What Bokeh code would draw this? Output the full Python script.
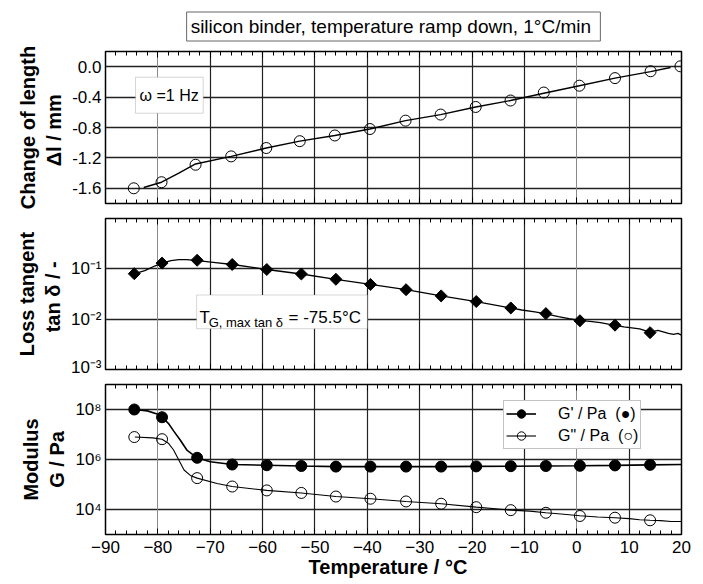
from bokeh.plotting import figure
from bokeh.layouts import column
from bokeh.models import (LinearAxis, SingleIntervalTicker, FixedTicker, Grid, Label,
                          BoxAnnotation, Legend, LegendItem, Title, CustomJSTickFormatter,
                          PrintfTickFormatter, Range1d)
from bokeh.embed import file_html
from bokeh.resources import INLINE

FONT = "Liberation Sans"

# ---------------- data ----------------
title_text = "silicon binder,  temperature ramp down, 1\u00b0C/min"

# marker temperatures (°C)
dl_T = [-84.6, -79.3, -72.8, -66.0, -59.3, -52.9, -46.2, -39.5, -32.7, -26.0, -19.3,
        -12.65, -6.3, 0.5, 7.3, 14.1, 19.8]
dl_v = [-1.60, -1.52, -1.29, -1.18, -1.07, -0.98, -0.905, -0.82, -0.71, -0.63, -0.53,
        -0.445, -0.34, -0.25, -0.15, -0.06, 0.005]
dl_line_T = [-82.7, -79.3, -76.0, -72.8, -66.0, -59.3, -52.9, -46.2, -39.5, -32.7, -26.0,
             -19.3, -12.65, -6.3, 0.5, 7.3, 14.1, 17.9]
dl_line_v = [-1.59, -1.52, -1.40, -1.28, -1.18, -1.07, -0.98, -0.905, -0.82, -0.71, -0.63,
             -0.53, -0.445, -0.35, -0.25, -0.15, -0.065, -0.01]

m_T = [-84.5, -79.2, -72.5, -65.8, -59.2, -52.6, -46.0, -39.4, -32.6, -25.9, -19.2,
       -12.6, -5.9, 0.6, 7.3, 14.0]
tan_v = [0.080, 0.130, 0.148, 0.122, 0.097, 0.079, 0.062, 0.049, 0.0385, 0.029, 0.0224,
         0.0167, 0.0129, 0.0093, 0.0076, 0.0054]
tan_line_T = [-84.4, -82.5, -80.5, -79.2, -77.5, -76.0, -74.5, -72.4, -69.0, -65.7, -59.2,
              -52.6, -46.0, -39.4, -32.6, -25.9, -19.2, -12.6, -10.5, -8.0, -5.9, -3.5,
              -1.5, 0.6, 2.5, 4.5, 7.3, 9.0, 10.5, 12.0, 14.0, 15.5, 16.5, 17.5, 18.5,
              19.3, 20.0]
tan_line_v = [0.080, 0.092, 0.115, 0.130, 0.146, 0.152, 0.152, 0.145, 0.133, 0.122, 0.097,
              0.079, 0.062, 0.049, 0.0385, 0.029, 0.0224, 0.0167, 0.0152, 0.0140, 0.0127,
              0.0112, 0.0102, 0.0095, 0.0090, 0.0085, 0.0075, 0.0070, 0.0067, 0.0064,
              0.0055, 0.0060, 0.0056, 0.0052, 0.0050, 0.0052, 0.0048]

gp_v = [1.0e8, 4.9e7, 1.17e6, 6.3e5, 5.9e5, 5.5e5, 5.2e5, 5.2e5, 5.2e5, 5.2e5, 5.3e5,
        5.4e5, 5.5e5, 5.6e5, 5.8e5, 6.1e5]
gpp_v = [7.9e6, 6.5e6, 1.8e5, 8.3e4, 5.8e4, 4.6e4, 3.3e4, 2.7e4, 2.1e4, 1.7e4, 1.24e4,
         9.4e3, 7.4e3, 5.5e3, 4.7e3, 3.7e3]
gp_line_T = [-84.5, -82.0, -80.0, -79.2, -78.0, -77.0, -75.7, -74.4, -72.5, -70.0, -65.8,
             -59.2, -52.6, -46.0, -39.4, -32.6, -25.9, -19.2, -12.6, -5.9, 0.6, 7.3, 14.0,
             20.0]
gp_line_v = [1.0e8, 8.8e7, 6.5e7, 4.9e7, 2.8e7, 1.4e7, 5.9e6, 2.3e6, 1.17e6, 8.1e5, 6.3e5,
             5.9e5, 5.5e5, 5.2e5, 5.2e5, 5.2e5, 5.2e5, 5.3e5, 5.4e5, 5.5e5, 5.6e5, 5.8e5,
             6.1e5, 6.3e5]
gpp_line_T = [-84.4, -81.0, -79.2, -78.0, -77.0, -76.3, -75.0, -73.8, -72.5, -68.7, -65.8,
              -59.2, -52.6, -46.0, -39.4, -32.6, -25.9, -19.2, -15.0, -12.6, -9.0, -5.9,
              -3.0, 0.6, 4.0, 7.3, 10.0, 12.0, 14.0, 16.0, 18.0, 20.0]
gpp_line_v = [7.9e6, 7.3e6, 6.5e6, 4.5e6, 2.4e6, 1.26e6, 3.8e5, 2.3e5, 1.8e5, 1.1e5, 8.3e4,
              5.8e4, 4.6e4, 3.3e4, 2.7e4, 2.1e4, 1.7e4, 1.24e4, 1.05e4, 9.4e3, 8.6e3,
              7.4e3, 6.6e3, 5.6e3, 5.0e3, 4.7e3, 4.3e3, 3.9e3, 3.7e3, 3.6e3, 3.3e3, 3.3e3]

dl_ticks = [0.0, -0.4, -0.8, -1.2, -1.6]
tan_ticks = [1e-3, 1e-2, 1e-1]
mod_ticks = [1e4, 1e6, 1e8]

# ---------------- helpers ----------------
SUP = CustomJSTickFormatter(code="""
const e = Math.round(Math.log10(tick));
const s = {'-':'\u207b','0':'\u2070','1':'\u00b9','2':'\u00b2','3':'\u00b3','4':'\u2074',
           '5':'\u2075','6':'\u2076','7':'\u2077','8':'\u2078','9':'\u2079'};
return '10' + String(e).split('').map(c => s[c]).join('');
""")


def make_fig(y_range, y_type, fh, top, bottom):
    p = figure(x_range=Range1d(-90, 20), y_range=y_range, y_axis_type=y_type,
               frame_width=576, frame_height=fh, output_backend="svg",
               toolbar_location=None, min_border_left=105, min_border_right=20,
               min_border_top=top, min_border_bottom=bottom)
    p.outline_line_color = "black"
    p.outline_line_width = 1.5
    p.background_fill_color = "white"
    p.border_fill_color = "white"
    return p


def style_x(ax, labels):
    ax.ticker = SingleIntervalTicker(interval=10, num_minor_ticks=5)
    ax.major_tick_in = 6
    ax.major_tick_out = 0
    ax.minor_tick_in = 4
    ax.minor_tick_out = 0
    ax.axis_line_color = None
    ax.major_tick_line_color = "black"
    ax.minor_tick_line_color = "black"
    if labels:
        ax.major_label_text_font = FONT
        ax.major_label_text_font_size = "17px"
        ax.major_label_text_color = "black"
        ax.major_label_standoff = 6
    else:
        ax.major_label_text_font_size = "0px"
        ax.major_label_text_color = None
        ax.major_label_standoff = 0


def style_y(p, ticks, label, fmt):
    ax = p.yaxis[0]
    ax.ticker = FixedTicker(ticks=ticks)
    ax.formatter = fmt
    ax.major_tick_in = 0
    ax.major_tick_out = 0
    ax.minor_tick_in = 0
    ax.minor_tick_out = 0
    ax.axis_line_color = None
    ax.major_label_text_font = FONT
    ax.major_label_text_font_size = "17px"
    ax.major_label_text_color = "black"
    ax.major_label_standoff = 4
    ax.axis_label = label
    ax.axis_label_text_font = FONT
    ax.axis_label_text_font_size = "20px"
    ax.axis_label_text_font_style = "bold"
    ax.axis_label_text_color = "black"
    ax.axis_label_standoff = 4
    p.ygrid.ticker = FixedTicker(ticks=ticks)
    p.ygrid.grid_line_color = "#222222"
    p.ygrid.grid_line_width = 1.6


def grids_x(p):
    p.xgrid.ticker = FixedTicker(ticks=[-70, -60, -50, -40, -30, -20, -10, 10])
    p.xgrid.grid_line_color = "#222222"
    p.xgrid.grid_line_width = 1.2
    g2 = Grid(dimension=0, ticker=FixedTicker(ticks=[-80, 0]),
              grid_line_color="#8a8a8a", grid_line_width=1.0)
    p.add_layout(g2)


def axes_x(p, labels_below):
    bottom_ax = p.below[0]
    style_x(bottom_ax, labels_below)
    top_ax = LinearAxis()
    style_x(top_ax, False)
    p.add_layout(top_ax, "above")
    return bottom_ax, top_ax


# ---------------- panel 1: change of length ----------------
p1 = make_fig(Range1d(-1.8, 0.2), "linear", 152, 51, 7)
axes_x(p1, False)
grids_x(p1)
style_y(p1, dl_ticks, "Change of length\n\u0394l /  mm", PrintfTickFormatter(format="%.1f"))
p1.add_layout(Title(text=title_text, align="center", offset=3, text_font=FONT,
                    text_font_size="19px", text_font_style="normal", text_color="black",
                    vertical_align="top", standoff=17, border_line_color="#666666",
                    border_line_width=1, background_fill_color="white", padding=4), "above")
p1.line(dl_line_T, dl_line_v, line_color="black", line_width=1.4)
p1.scatter(dl_T, dl_v, marker="circle", size=11, fill_color=None,
           line_color="black", line_width=1)
p1.add_layout(BoxAnnotation(left=-84.27, right=-71.34, top=-0.138, bottom=-0.612,
                            fill_color="white", fill_alpha=1, line_color="#777777",
                            line_width=1))
p1.add_layout(Label(x=-83.5, y=-0.379, text="\u03c9 =1 Hz", text_font=FONT,
                    text_font_size="16px", text_baseline="middle", text_color="black"))

# ---------------- panel 2: loss tangent ----------------
p2 = make_fig(Range1d(1e-3, 1.0), "log", 151, 8, 7)
axes_x(p2, False)
grids_x(p2)
style_y(p2, tan_ticks, "Loss tangent\ntan  \u03b4 / -", SUP)
p2.line(tan_line_T, tan_line_v, line_color="black", line_width=1.3)
p2.scatter(m_T, tan_v, marker="square", angle=0.785398, size=8.5,
           fill_color="black", line_color="black")
p2.add_layout(BoxAnnotation(left=-72.6, right=-40.0, top=0.0302, bottom=0.00646,
                            fill_color="white", fill_alpha=1, line_color="#777777",
                            line_width=1))
p2.add_layout(Label(x=-72.05, y=0.0106, text="T", text_font=FONT, text_font_size="17px",
                    text_baseline="alphabetic", text_color="black"))
p2.add_layout(Label(x=-70.3, y=0.0084, text="G, max tan \u03b4", text_font=FONT,
                    text_font_size="13px", text_baseline="alphabetic", text_color="black"))
p2.add_layout(Label(x=-55.05, y=0.0106, text="= -75.5\u00b0C", text_font=FONT,
                    text_font_size="17px", text_baseline="alphabetic", text_color="black"))

# ---------------- panel 3: modulus ----------------
p3 = make_fig(Range1d(1e3, 1e9), "log", 150, 8, 48)
xa, _ = axes_x(p3, True)
grids_x(p3)
style_y(p3, mod_ticks, "Modulus\nG / Pa", SUP)
xa.axis_label = "Temperature   / \u00b0C"
xa.axis_label_text_font = FONT
xa.axis_label_text_font_size = "20px"
xa.axis_label_text_font_style = "bold"
xa.axis_label_text_color = "black"
xa.axis_label_standoff = 0

l_gp = p3.line(gp_line_T, gp_line_v, line_color="black", line_width=1.6)
s_gp = p3.scatter(m_T, gp_v, marker="circle", size=11, fill_color="black",
                  line_color="black")
l_gpp = p3.line(gpp_line_T, gpp_line_v, line_color="black", line_width=1.1)
s_gpp = p3.scatter(m_T, gpp_v, marker="circle", size=11, fill_color="white",
                   fill_alpha=0.0, line_color="black", line_width=1)
legend = Legend(items=[LegendItem(label="G' / Pa  (\u25cf)", renderers=[l_gp, s_gp]),
                       LegendItem(label='G" / Pa  (\u25cb)', renderers=[l_gpp, s_gpp])],
                location=(398, 85), label_text_font=FONT, label_text_font_size="16px",
                label_text_color="black", border_line_color="#888888",
                border_line_width=1, background_fill_color="white",
                background_fill_alpha=1.0, padding=2, spacing=1, glyph_width=30,
                glyph_height=21, label_height=20, label_standoff=22, margin=0)
p3.add_layout(legend)

layout = column(p1, p2, p3, spacing=0)
open("out.html", "w").write(file_html(layout, INLINE))
